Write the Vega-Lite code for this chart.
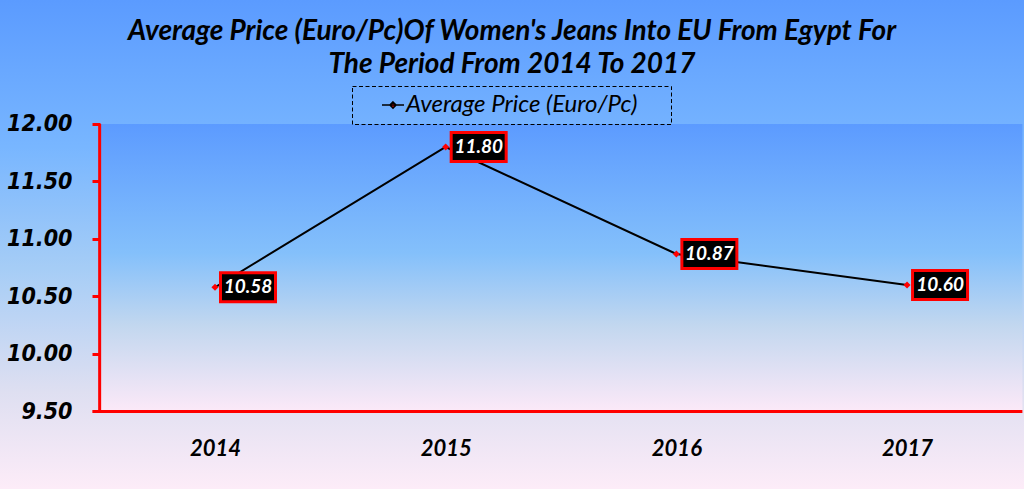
{
  "$schema": "https://vega.github.io/schema/vega-lite/v6.json",
  "width": 1024,
  "height": 489,
  "autosize": {"type": "fit", "contains": "padding"},
  "padding": 0,
  "background": "#ffffff",
  "title": {
    "text": ["Average Price (Euro/Pc)Of Women's Jeans Into EU From Egypt For", "The Period From 2014 To 2017"],
    "font": "Lato",
    "fontSize": 28,
    "fontStyle": "italic",
    "fontWeight": "bold",
    "color": "#000000",
    "anchor": "middle",
    "lineHeight": 33,
    "offset": -79
  },
  "config": {
    "view": {"stroke": null},
    "legend": {"strokeDash": [4, 2.5]}
  },
  "data": {
    "values": [
      {"year": 2014, "price": 10.58, "series": "Average Price (Euro/Pc)"},
      {"year": 2015, "price": 11.80, "series": "Average Price (Euro/Pc)"},
      {"year": 2016, "price": 10.87, "series": "Average Price (Euro/Pc)"},
      {"year": 2017, "price": 10.60, "series": "Average Price (Euro/Pc)"}
    ]
  },
  "encoding": {
    "x": {
      "field": "year", "type": "quantitative",
      "scale": {"domain": [2013.068, 2017.507], "nice": false, "zero": false},
      "axis": {
        "orient": "bottom", "offset": -77.5, "title": null, "values": [2014, 2015, 2016, 2017],
        "format": "d", "domain": false, "ticks": false, "grid": false, "zindex": 1,
        "labelFont": "Lato", "labelFontSize": 22, "labelFontStyle": "italic", "labelFontWeight": "bold",
        "labelColor": "#000000", "labelPadding": 27
      }
    },
    "y": {
      "field": "price", "type": "quantitative",
      "scale": {"domain": [8.826, 13.078], "nice": false, "zero": false},
      "axis": {
        "orient": "left", "offset": -100, "title": null, "values": [9.5, 10, 10.5, 11, 11.5, 12],
        "format": ".2f", "domain": false, "grid": false, "zindex": 1,
        "ticks": true, "tickColor": "#ff0000", "tickWidth": 3, "tickSize": 8,
        "labelFont": "DejaVu Sans Condensed", "labelFontSize": 23, "labelFontStyle": "italic", "labelFontWeight": "bold",
        "labelColor": "#000000", "labelPadding": 20
      }
    }
  },
  "layer": [
    {
      "data": {"values": [{"x0": 2013.068, "x1": 2017.507, "y0": 13.078, "y1": 8.826}]},
      "mark": {"type": "rect", "fill": {"gradient": "linear", "x1": 0, "y1": 0, "x2": 0, "y2": 1,
        "stops": [{"offset": 0, "color": "#5b9bff"}, {"offset": 0.3, "color": "#78b6ff"}, {"offset": 0.55, "color": "#a6cdf6"}, {"offset": 0.8, "color": "#dedff1"}, {"offset": 1, "color": "#fdecf8"}]}},
      "encoding": {
        "x": {"field": "x0", "type": "quantitative"},
        "x2": {"field": "x1"},
        "y": {"field": "y0", "type": "quantitative"},
        "y2": {"field": "y1"}
      }
    },
    {
      "data": {"values": [{"x0": 2013.5, "x1": 2017.5, "y0": 12, "y1": 9.5}]},
      "mark": {"type": "rect", "fill": {"gradient": "linear", "x1": 0, "y1": 0, "x2": 0, "y2": 1,
        "stops": [{"offset": 0, "color": "#5c9bff"}, {"offset": 0.45, "color": "#84c0fb"}, {"offset": 0.7, "color": "#c2d7ef"}, {"offset": 1, "color": "#fce9f8"}]}},
      "encoding": {
        "x": {"field": "x0", "type": "quantitative"},
        "x2": {"field": "x1"},
        "y": {"field": "y0", "type": "quantitative"},
        "y2": {"field": "y1"}
      }
    },
    {
      "data": {"values": [{"x0": 2013.5, "y0": 12, "y1": 9.5}]},
      "mark": {"type": "rule", "color": "#ff0000", "strokeWidth": 3},
      "encoding": {
        "x": {"field": "x0", "type": "quantitative"},
        "y": {"field": "y0", "type": "quantitative"},
        "y2": {"field": "y1"}
      }
    },
    {
      "data": {"values": [{"x0": 2013.47, "x1": 2017.5, "y0": 9.5}]},
      "mark": {"type": "rule", "color": "#ff0000", "strokeWidth": 3},
      "encoding": {
        "x": {"field": "x0", "type": "quantitative"},
        "x2": {"field": "x1"},
        "y": {"field": "y0", "type": "quantitative"}
      }
    },
    {
      "mark": {"type": "line", "strokeWidth": 2},
      "encoding": {
        "color": {
          "field": "series", "type": "nominal",
          "scale": {"range": ["#000000"]},
          "legend": {
            "title": ".", "titleOrient": "right", "titleColor": "transparent", "titlePadding": 24, "titleFontSize": 10,
            "orient": "none", "legendX": 352, "legendY": 86,
            "strokeColor": "#000000", "padding": 7, "labelLimit": 500,
            "symbolType": "M-1,0L1,0M0,-0.28L0.28,0L0,0.28L-0.28,0Z",
            "symbolSize": 484, "symbolStrokeWidth": 1.5, "symbolStrokeColor": "#000000", "symbolFillColor": "#ff0000",
            "symbolOffset": 22,
            "labelFont": "Lato", "labelFontSize": 24, "labelFontStyle": "italic", "labelColor": "#000000",
            "labelOffset": 1
          }
        }
      }
    },
    {
      "mark": {"type": "point", "shape": "diamond", "filled": true, "color": "#ff0000", "size": 50, "opacity": 1}
    },
    {
      "mark": {"type": "rect", "width": 55, "height": 29, "xOffset": 33, "fill": "#000000", "stroke": "#ff0000", "strokeWidth": 3}
    },
    {
      "mark": {"type": "text", "dx": 33, "align": "center", "baseline": "middle", "color": "#ffffff",
        "font": "Lato", "fontSize": 19, "fontStyle": "italic", "fontWeight": "bold"},
      "encoding": {"text": {"field": "price", "type": "quantitative", "format": ".2f"}}
    }
  ]
}
